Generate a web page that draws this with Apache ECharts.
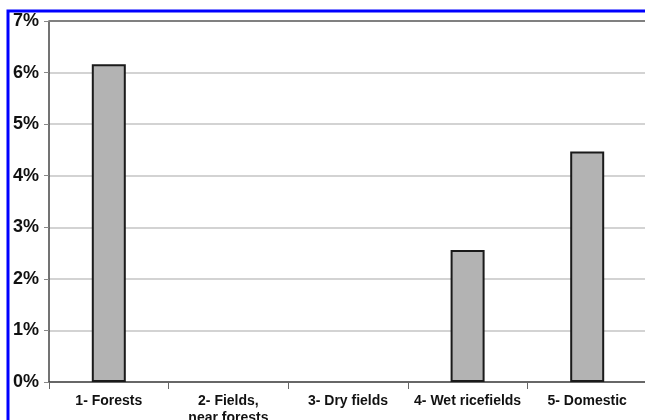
<!DOCTYPE html>
<html>
<head>
<meta charset="utf-8">
<script src="https://cdn.jsdelivr.net/npm/echarts@6/dist/echarts.min.js"></script>
<style>
html,body{margin:0;padding:0;background:#fff;}
#c{width:645px;height:420px;}
</style>
</head>
<body>
<div id="c"></div>
<script>
var categories = ['1- Forests', '2- Fields,\nnear forests', '3- Dry fields', '4- Wet ricefields', '5- Domestic'];
var values = [6.16, 0, 0, 2.56, 4.47];
var yTicks = [0, 1, 2, 3, 4, 5, 6, 7];

var chart = echarts.init(document.getElementById('c'));
chart.setOption({
  animation: false,
  backgroundColor: '#fff',
  graphic: [{
    type: 'rect',
    shape: {x: 8, y: 11, width: 700, height: 500},
    style: {fill: 'none', stroke: '#0000ff', lineWidth: 3},
    z: 100
  }],
  grid: {left: 49, top: 21, width: 598, bottom: 38, containLabel: false, outerBoundsMode: 'none'},
  xAxis: {
    type: 'category',
    data: categories,
    axisLine: {lineStyle: {color: '#444', width: 1.5}},
    axisTick: {show: true, length: 7, lineStyle: {color: '#666', width: 1}},
    axisLabel: {
      interval: 0, margin: 11, color: '#111',
      fontFamily: 'Liberation Sans, Arial, sans-serif', fontWeight: 'bold', fontSize: 14, lineHeight: 17
    },
    splitLine: {show: false}
  },
  yAxis: {
    type: 'value',
    min: yTicks[0], max: yTicks[yTicks.length - 1], interval: 1,
    axisLine: {show: true, lineStyle: {color: '#444', width: 1.5}},
    axisTick: {show: true, length: 5, lineStyle: {color: '#888'}},
    axisLabel: {
      formatter: '{value}%', margin: 10, color: '#111',
      fontFamily: 'Liberation Sans, Arial, sans-serif', fontWeight: 'bold', fontSize: 18
    },
    splitLine: {show: true, lineStyle: {color: '#c4c4c4', width: 1.5}}
  },
  series: [{
    type: 'bar',
    data: values.map(function (v) {
      return v === 0 ? {value: v, itemStyle: {borderWidth: 0, opacity: 0}} : v;
    }),
    barWidth: 34,
    itemStyle: {color: '#b3b3b3', borderColor: '#1a1a1a', borderWidth: 2},
    markLine: {
      silent: true, symbol: 'none', label: {show: false},
      lineStyle: {color: '#808080', width: 2, type: 'solid'},
      data: [{yAxis: yTicks[yTicks.length - 1]}]
    }
  }]
});
</script>
</body>
</html>
